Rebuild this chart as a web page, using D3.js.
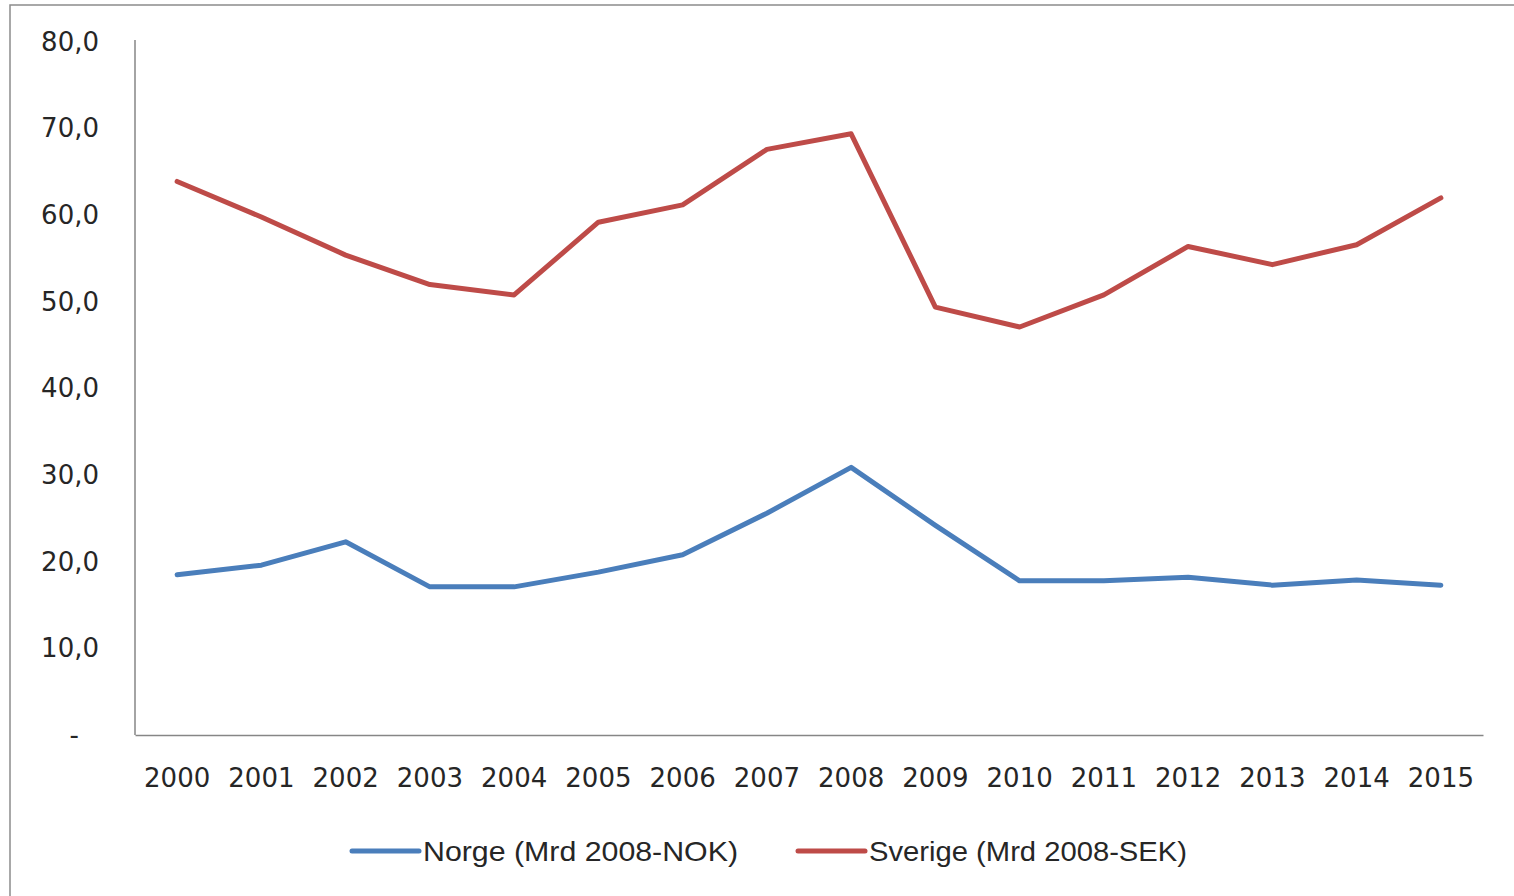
<!DOCTYPE html>
<html>
<head>
<meta charset="utf-8">
<script src="https://cdn.jsdelivr.net/npm/d3@7"></script>
<style>
  body { margin: 0; background: #fff; }
  text { font-family: "Liberation Sans", Arial, sans-serif; fill: #262626; }
</style>
</head>
<body>
<svg id="chart" width="1514" height="896"></svg>
<script>
const years = ['2000','2001','2002','2003','2004','2005','2006','2007','2008','2009','2010','2011','2012','2013','2014','2015']
const norge = [18.5, 19.6, 22.3, 17.1, 17.1, 18.8, 20.8, 25.6, 30.9, 24.2, 17.8, 17.8, 18.2, 17.3, 17.9, 17.3]
const sverige = [63.9, 59.8, 55.4, 52.0, 50.8, 59.2, 61.2, 67.6, 69.4, 49.4, 47.1, 50.8, 56.4, 54.3, 56.6, 62.0]
const yTicks = [0, 10, 20, 30, 40, 50, 60, 70, 80]
const seriesNames = ['Norge (Mrd 2008-NOK)', 'Sverige (Mrd 2008-SEK)']
const seriesColors = ['#4a7ebb', '#be4b48']

const svg = d3.select('#chart')

// outer chart border
svg.append('rect')
  .attr('x', 10).attr('y', 5)
  .attr('width', 1520).attr('height', 920)
  .style('fill', 'none')
  .style('stroke', '#8c8c8c')
  .style('stroke-width', 1.5)

const plot = {left: 135, right: 1483, top: 42, bottom: 735}
const axisFont = '"DejaVu Sans", Verdana, sans-serif'

const x = d3.scaleBand().domain(years).range([plot.left, plot.right])
const y = d3.scaleLinear().domain([0, 80]).range([plot.bottom, plot.top])

// y axis
const yAxis = svg.append('g')
  .attr('transform', `translate(${plot.left},0)`)
  .call(d3.axisLeft(y).tickValues(yTicks).tickSize(0).tickPadding(36)
    .tickFormat(d => d === 0 ? '-' : d3.format('.1f')(d).replace('.', ',')))
yAxis.select('.domain').attr('d', `M0,${plot.top - 2}V${plot.bottom}`).style('stroke', '#868686').style('stroke-width', 1.5)
yAxis.selectAll('text')
  .style('font-size', '26px')
  .style('font-family', axisFont)
  .style('fill', '#262626')
  .attr('dx', d => d === 0 ? -20 : 0)

// x axis
const xAxis = svg.append('g')
  .attr('transform', `translate(0,${plot.bottom})`)
  .call(d3.axisBottom(x).tickSize(0).tickPadding(34))
xAxis.select('.domain').style('stroke', '#868686').style('stroke-width', 1.5)
xAxis.selectAll('text')
  .style('font-size', '26px')
  .style('font-family', axisFont)
  .style('fill', '#262626')

const line = d3.line()
  .x((d, i) => x(years[i]) + x.bandwidth() / 2)
  .y(d => y(d))

;[norge, sverige].forEach((vals, i) => {
  svg.append('path')
    .datum(vals)
    .attr('d', line)
    .style('fill', 'none')
    .style('stroke', seriesColors[i])
    .style('stroke-width', 5)
    .style('stroke-linejoin', 'round')
    .style('stroke-linecap', 'round')
})

// legend
const legendItems = [
  {x1: 352, x2: 419, tx: 423, w: 315},
  {x1: 798, x2: 865, tx: 869, w: 318}
]
legendItems.forEach((it, i) => {
  svg.append('line')
    .attr('x1', it.x1).attr('x2', it.x2)
    .attr('y1', 851).attr('y2', 851)
    .style('stroke', seriesColors[i])
    .style('stroke-width', 5)
    .style('stroke-linecap', 'round')
  svg.append('text')
    .attr('x', it.tx).attr('y', 861)
    .attr('textLength', it.w)
    .attr('lengthAdjust', 'spacingAndGlyphs')
    .style('font-size', '28px')
    .text(seriesNames[i])
})
</script>
</body>
</html>
